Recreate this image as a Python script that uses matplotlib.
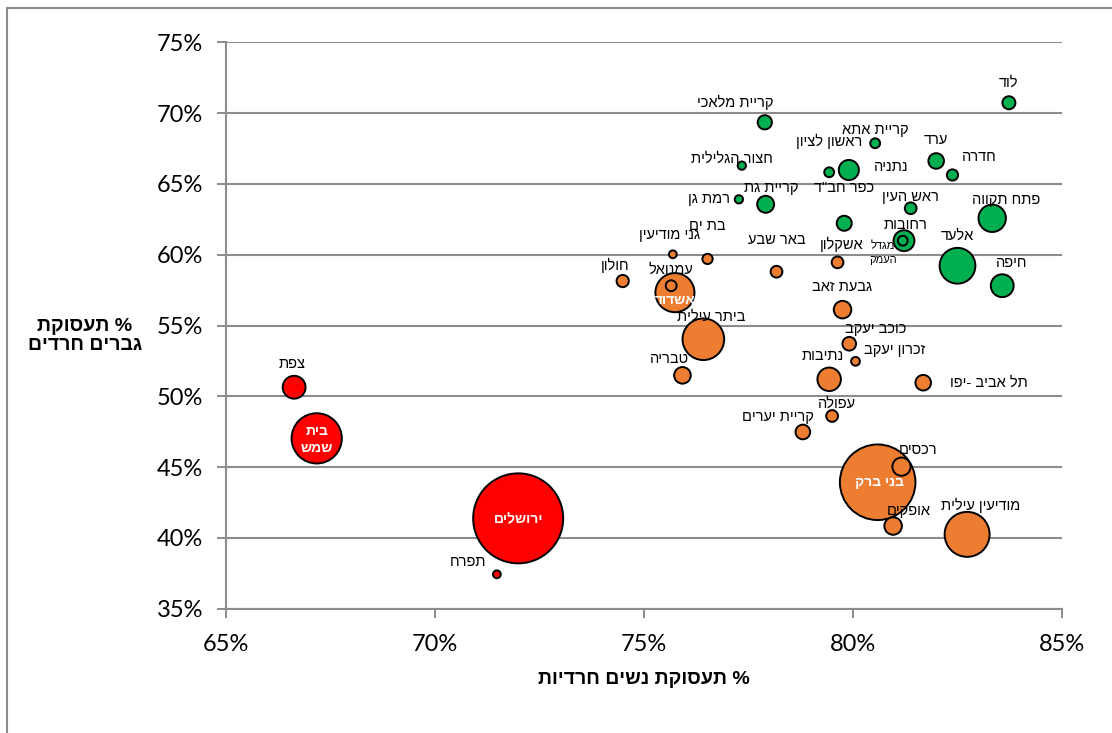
import matplotlib.pyplot as plt
from matplotlib.lines import Line2D
import numpy as np


def heb(s):
    # matplotlib has no bidi support, so Hebrew is written in visual (reversed) order
    return "\n".join(line[::-1] for line in s.split("\n"))


# employment % of Haredi women (x), men (y), bubble = Haredi population (thousands, approx.)
green_names = ["לוד", "קריית מלאכי", "קריית אתא", "ערד", "חדרה", "חצור הגלילית",
               "ראשון לציון", "נתניה", "רמת גן", "קריית גת", "ראש העין", "פתח תקווה",
               'כפר חב"ד', "רחובות", "מגדל\nהעמק", "אלעד", "חיפה"]
green_x = [83.73, 77.89, 80.53, 81.99, 82.38, 77.34, 79.43, 79.90, 77.27, 77.91,
           81.38, 83.33, 79.79, 81.22, 81.19, 82.50, 83.57]
green_y = [70.73, 69.35, 67.87, 66.62, 65.63, 66.29, 65.82, 65.98, 63.91, 63.56,
           63.28, 62.57, 62.22, 60.99, 60.99, 59.22, 57.81]
green_pop = [4.2, 5.0, 2.4, 6.0, 3.1, 1.7, 2.4, 10.0, 1.7, 7.1, 3.4, 18.5, 5.6,
             10.8, 2.4, 31.6, 12.9]

orange_names = ["גני מודיעין", "בת ים", "באר שבע", "אשקלון", "חולון", "עמנואל",
                "אשדוד", "גבעת זאב", "ביתר עילית", "כוכב יעקב", "זכרון יעקב",
                "נתיבות", "תל אביב -יפו", "טבריה", "עפולה", "קריית יערים", "בני ברק",
                "רכסים", "אופקים", "מודיעין עילית"]
orange_x = [75.69, 76.52, 78.17, 79.63, 74.49, 75.65, 75.74, 79.75, 76.42, 79.91,
            80.06, 79.43, 81.68, 75.92, 79.50, 78.80, 80.59, 81.16, 80.96, 82.73]
orange_y = [60.03, 59.70, 58.80, 59.46, 58.14, 57.81, 57.32, 56.12, 54.03, 53.71,
            52.47, 51.20, 50.96, 51.48, 48.61, 47.48, 43.93, 45.03, 40.84, 40.25]
orange_pop = [1.5, 2.6, 3.4, 3.4, 3.7, 2.9, 37.7, 7.6, 42.8, 4.6, 1.9, 13.6, 6.0,
              6.8, 3.4, 5.3, 141.0, 8.2, 7.6, 49.9]

red_names = ["צפת", "בית\nשמש", "ירושלים", "תפרח"]
red_x = [66.63, 67.17, 71.99, 71.48]
red_y = [50.64, 47.03, 41.38, 37.43]
red_pop = [12.9, 62.3, 200.0, 1.5]

x_ticks = [65, 70, 75, 80, 85]
y_ticks = [35, 40, 45, 50, 55, 60, 65, 70, 75]

# label offsets from bubble centre, in pixels (x right, y up)
label_offsets = {
    "לוד": (0, 20), "קריית מלאכי": (-30, 20), "קריית אתא": (0, 13), "ערד": (0, 21),
    "חדרה": (27, 18), "חצור הגלילית": (-10, 7), "ראשון לציון": (0, 31),
    "נתניה": (42, 3), "רמת גן": (-30, 0), "קריית גת": (6, 16), "ראש העין": (0, 11),
    "פתח תקווה": (14, 18), 'כפר חב"ד': (0, 35), "רחובות": (2, 16),
    "מגדל\nהעמק": (-20, -12), "אלעד": (0, 30), "חיפה": (9, 23),
    "גני מודיעין": (-3, 19), "בת ים": (0, 33), "באר שבע": (0, 32), "אשקלון": (4, 18),
    "חולון": (-8, 16), "עמנואל": (0, 16), "אשדוד": (0, -7), "גבעת זאב": (0, 23),
    "ביתר עילית": (8, 23), "כוכב יעקב": (26, 15), "זכרון יעקב": (39, 11),
    "נתיבות": (-6, 23), "תל אביב -יפו": (66, 0), "טבריה": (-13, 16), "עפולה": (5, 12),
    "קריית יערים": (-25, 15), "בני ברק": (2, 0), "רכסים": (17, 17), "אופקים": (16, 15),
    "מודיעין עילית": (14, 29),
    "צפת": (-2, 23), "בית\nשמש": (0, -1), "ירושלים": (0, -1), "תפרח": (-29, 12),
}
inside_labels = ["אשדוד", "בני ברק", "בית\nשמש", "ירושלים"]

heb_font = ["Liberation Sans", "DejaVu Sans"]
num_font = ["Lato", "DejaVu Sans"]
grid_gray = "#8c8c8c"

fig = plt.figure(figsize=(11.12, 7.33), dpi=100)
ax = fig.add_axes([226 / 1112, 1 - 608.7 / 733, (1062 - 226) / 1112, (608.7 - 42.3) / 733])

names = green_names + orange_names + red_names
xs = np.array(green_x + orange_x + red_x)
ys = np.array(green_y + orange_y + red_y)
pops = np.array(green_pop + orange_pop + red_pop)
colors = (["#00b050"] * len(green_names) + ["#ed7d31"] * len(orange_names)
          + ["#ff0000"] * len(red_names))

# big bubbles first so the small ones stay visible on top
order = np.argsort(-pops)
ax.scatter(xs[order], ys[order], s=pops[order] * 21.0, c=[colors[i] for i in order],
           edgecolors="black", linewidths=1.4, zorder=3, clip_on=False)

for name, x, y in zip(names, xs, ys):
    dx, dy = label_offsets[name]
    if name in inside_labels:
        ax.annotate(heb(name), (x, y), xytext=(dx, dy), textcoords="offset pixels",
                    ha="center", va="center", color="white", fontweight="bold",
                    fontsize=10, family=heb_font, zorder=5, linespacing=1.3)
    elif name == "מגדל\nהעמק":
        ax.annotate(heb(name), (x, y), xytext=(dx, dy), textcoords="offset pixels",
                    ha="center", va="center", fontsize=8, family=heb_font, zorder=5,
                    linespacing=1.5)
    else:
        ax.annotate(heb(name), (x, y), xytext=(dx, dy), textcoords="offset pixels",
                    ha="center", va="center", fontsize=10.5, family=heb_font, zorder=5)

ax.set_xlim(65, 85)
ax.set_ylim(35, 75)
ax.set_xticks(x_ticks)
ax.set_xticklabels([f"{v}%" for v in x_ticks], family=num_font, fontsize=17)
ax.set_yticks(y_ticks)
ax.set_yticklabels([f"{v}%" for v in y_ticks], family=num_font, fontsize=17)
ax.tick_params(axis="both", direction="out", length=6.5, width=1.4, color=grid_gray)
ax.tick_params(axis="y", pad=10)
ax.tick_params(axis="x", pad=12)

ax.grid(axis="y", color=grid_gray, linewidth=1.5, zorder=0)
ax.set_axisbelow(True)
for side in ["top", "right"]:
    ax.spines[side].set_visible(False)
for side in ["left", "bottom"]:
    ax.spines[side].set_color(grid_gray)
    ax.spines[side].set_linewidth(1.5)

# axis titles, horizontal like the original
fig.text(643.5 / 1112, 1 - 680 / 733, heb("% תעסוקת נשים חרדיות"),
         ha="center", va="center", fontsize=14, fontweight="bold", family=heb_font)
fig.text(85 / 1112, 1 - 336 / 733, heb("% תעסוקת\nגברים חרדים"),
         ha="center", va="center", fontsize=14, fontweight="bold", family=heb_font,
         linespacing=1.1)

# chart area border (left and top edges visible in the crop)
fig.add_artist(Line2D([7 / 1112, 7 / 1112], [0, 1 - 8 / 733], transform=fig.transFigure,
                      color=grid_gray, linewidth=1.5))
fig.add_artist(Line2D([7 / 1112, 1], [1 - 8 / 733, 1 - 8 / 733], transform=fig.transFigure,
                      color=grid_gray, linewidth=1.5))

fig.savefig("out.png", dpi=100)
